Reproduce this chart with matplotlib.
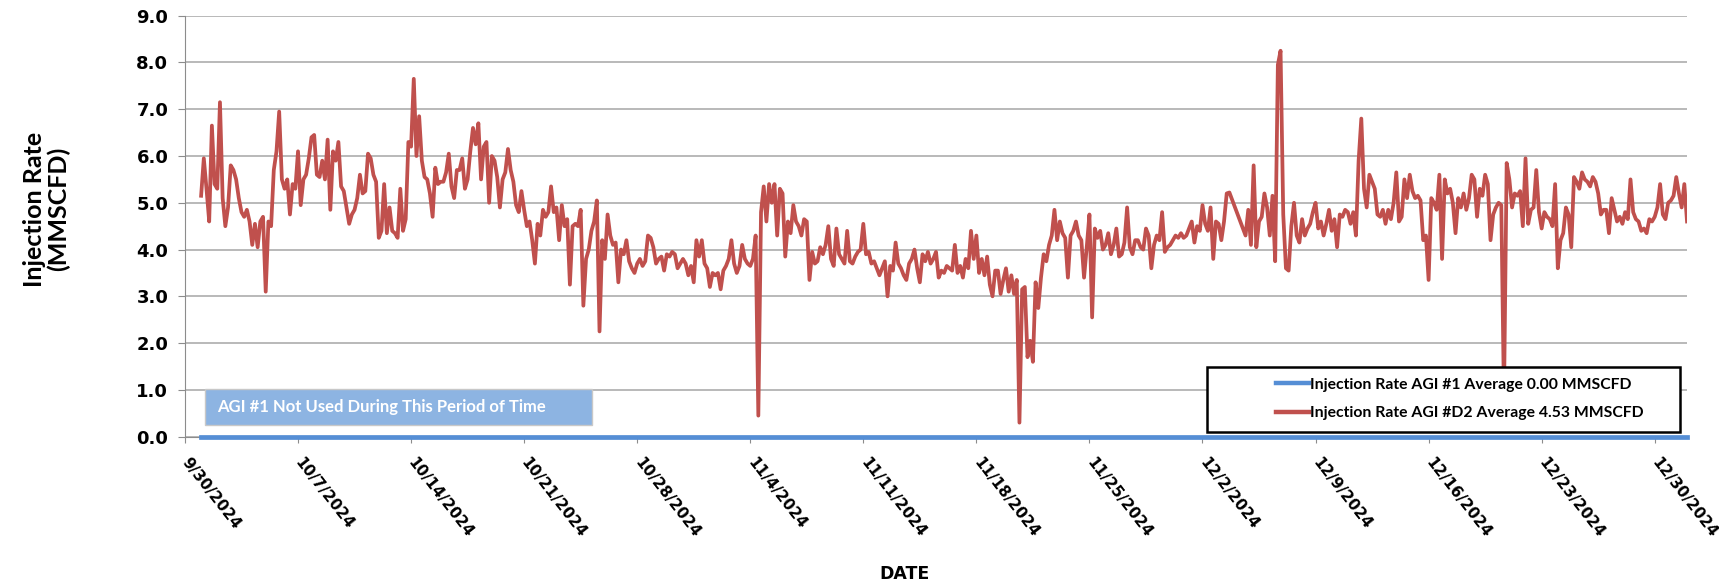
import numpy as np
import pandas as pd
import matplotlib
matplotlib.use('Agg')
import matplotlib.pyplot as plt
from matplotlib import font_manager
from matplotlib.patches import Rectangle
from matplotlib.lines import Line2D

names = {f.name for f in font_manager.fontManager.ttflist}
narrow = 'Liberation Sans Narrow' if 'Liberation Sans Narrow' in names else 'Lato'
plt.rcParams['font.family'] = ['DejaVu Sans']
plt.rcParams['font.weight'] = 'bold'

# AGI #D2 injection rate (MMSCFD), one value every 4 hours from 10/1/2024 00:00
# None = no reading (line is drawn straight across the gap)
start = '2024-10-01'
step = '4h'
agi_d2 = [
    5.15, 5.95, 5.3, 4.6, 6.65, 5.4,      # 10/1
    5.3, 7.15, 5.1, 4.5, 4.9, 5.8,
    5.7, 5.5, 5.1, 4.8, 4.7, 4.85,
    4.6, 4.1, 4.55, 4.05, 4.6, 4.7,
    3.1, 4.6, 4.5, 5.7, 6.1, 6.95,
    5.5, 5.3, 5.5, 4.75, 5.4, 5.3,
    6.1, 4.95, 5.5, 5.6, 5.95, 6.4,       # 10/7
    6.45, 5.6, 5.55, 5.9, 5.5, 6.35,
    4.85, 6.1, 5.9, 6.3, 5.35, 5.25,
    4.9, 4.55, 4.75, 4.85, 5.1, 5.6,
    5.2, 5.25, 6.05, 5.95, 5.6, 5.45,
    4.25, 4.4, 5.4, 4.35, 4.9, 4.4,
    4.35, 4.25, 5.3, 4.4, 4.65, 6.3,
    6.2, 7.65, 6.0, 6.85, 5.9, 5.55,      # 10/14
    5.5, 5.2, 4.7, 5.75, 5.4, 5.45,
    5.45, 5.65, 6.05, 5.35, 5.1, 5.7,
    5.7, 5.95, 5.3, 5.5, 6.1, 6.6,
    6.25, 6.7, 5.5, 6.2, 6.3, 5.0,
    6.0, 5.9, 5.55, 4.9, 5.5, 5.65,
    6.15, 5.7, 5.45, 4.95, 4.8, 5.25,
    4.85, 4.5, 4.6, 4.2, 3.7, 4.55,       # 10/21
    4.3, 4.85, 4.7, 4.8, 5.35, 4.8,
    4.9, 4.2, 4.95, 4.5, 4.65, 3.25,
    4.5, 4.55, 4.5, 4.85, 2.8, 3.8,
    4.0, 4.4, 4.6, 5.05, 2.25, 4.2,
    3.8, 4.75, 4.3, 4.1, 4.15, 3.3,
    4.0, 3.9, 4.2, 3.75, 3.6, 3.5,
    3.7, 3.8, 3.65, 3.75, 4.3, 4.25,      # 10/28
    4.05, 3.7, 3.8, 3.85, 3.55, 3.9,
    3.85, 3.95, 3.9, 3.6, 3.7, 3.8,
    3.7, 3.45, 3.65, 3.3, 4.2, 3.85,
    4.2, 3.7, 3.6, 3.2, 3.5, 3.45,
    3.5, 3.15, 3.55, 3.65, 3.8, 4.2,
    3.7, 3.5, 3.65, 4.1, 3.8, 3.7,
    3.65, 3.8, 4.3, 0.45, 4.8, 5.35,      # 11/4
    4.6, 5.4, 5.0, 5.4, 4.3, 5.3,
    5.2, 3.85, 4.6, 4.35, 4.95, 4.6,
    4.5, 4.3, 4.65, 4.6, 3.35, 3.95,
    3.7, 3.75, 4.05, 3.9, 4.1, 4.5,
    3.8, 3.65, 4.45, 3.9, 3.8, 3.7,
    4.4, 3.75, 3.7, 3.85, 3.95, 4.0,
    4.55, 3.9, 3.95, 3.7, 3.75, 3.6,      # 11/11
    3.45, 3.6, 3.75, 3.0, 3.65, 3.55,
    4.15, 3.7, 3.6, 3.45, 3.35, 3.7,
    3.8, 4.0, 3.6, 3.3, 3.9, 3.75,
    3.95, 3.7, 3.8, 3.95, 3.4, 3.55,
    3.5, 3.65, 3.6, 3.55, 4.1, 3.5,
    3.65, 3.4, 3.8, 3.6, 4.4, 3.8,
    4.3, 3.5, 3.8, 3.45, 3.85, 3.25,      # 11/18
    3.0, 3.55, 3.55, 3.05, 3.35, 3.6,
    3.1, 3.45, 3.05, 3.35, 0.3, 3.15,
    3.2, 1.7, 2.05, 1.6, 3.3, 2.75,
    3.4, 3.9, 3.75, 4.1, 4.3, 4.85,
    4.2, 4.6, 4.35, 4.25, 3.4, 4.3,
    4.4, 4.6, 4.3, 4.2, 3.4, 4.05,
    4.75, 2.55, 4.45, 4.25, 4.4, 4.0,     # 11/25
    4.1, 4.35, 3.9, 4.1, 4.45, 3.85,
    3.9, 4.15, 4.9, 4.05, 3.9, 4.2,
    4.2, 4.05, 4.0, 4.45, 4.3, 3.6,
    4.1, 4.3, 4.2, 4.8, 3.95, 4.05,
    4.1, 4.2, 4.3, 4.25, 4.35, 4.25,
    4.3, 4.45, 4.6, 4.15, 4.5, 4.4,
    4.95, 4.55, 4.4, 4.9, 3.8, 4.6,       # 12/2
    4.55, 4.2, 4.6, 5.2, 5.22, None,
    None, None, None, None, 4.3, 4.85,
    4.1, 5.8, 4.05, 4.6, 4.7, 5.2,
    4.9, 4.3, 5.15, 3.75, 7.95, 8.25,
    4.75, 3.6, 3.55, 4.5, 5.0, 4.3,
    4.15, 4.65, 4.3, 4.45, 4.55, 4.8,
    5.0, 4.45, 4.6, 4.3, 4.55, 4.85,      # 12/9
    4.4, 4.65, 4.05, 4.75, 4.7, 4.85,
    4.8, 4.55, 4.8, 4.3, 5.9, 6.8,
    5.3, 4.9, 5.6, 5.45, 5.3, 4.75,
    4.7, 4.85, 4.55, 4.85, 4.65, 5.0,
    5.65, 4.6, 4.7, 5.5, 5.1, 5.6,
    5.25, 5.1, 5.15, 5.05, 4.2, 4.3,
    3.35, 5.1, 5.0, 4.85, 5.6, 3.8,       # 12/16
    5.5, 5.2, 5.3, 5.0, 4.35, 5.1,
    4.9, 5.2, 4.85, 5.1, 5.6, 5.5,
    4.7, 5.3, 5.15, 5.6, 5.4, 4.2,
    4.75, 4.9, 5.0, 4.95, 0.8, 5.85,
    5.5, 4.9, 5.2, 5.15, 5.25, 4.5,
    5.95, 4.55, 4.85, 4.9, 5.7, 4.8,
    4.45, 4.8, 4.7, 4.65, 4.5, 5.4,       # 12/23
    3.6, 4.2, 4.35, 4.9, 4.75, 4.05,
    5.55, 5.45, 5.3, 5.65, 5.5, 5.45,
    5.35, 5.55, 5.45, 5.2, 4.75, 4.85,
    4.85, 4.35, 5.1, 4.85, 4.6, 4.7,
    4.55, 4.8, 4.65, 5.5, 4.8, 4.65,
    4.6, 4.4, 4.45, 4.35, 4.65, 4.6,
    4.7, 4.9, 5.4, 4.75, 4.65, 5.0,       # 12/30
    5.05, 5.15, 5.55, 5.2, 4.9, 5.4,
    4.6,
]

label_agi1 = 'Injection Rate AGI #1 Average 0.00 MMSCFD'
label_agi_d2 = 'Injection Rate AGI #D2 Average 4.53 MMSCFD'
note_text = 'AGI #1 Not Used During This Period of Time'

times = pd.date_range(start, periods=len(agi_d2), freq=step)
d2 = pd.Series(agi_d2, index=times, dtype=float).dropna()
agi1 = np.zeros(len(times))

tick_dates = pd.date_range('2024-09-30', '2024-12-30', freq='7D')
tick_labels = [f'{t.month}/{t.day}/{t.year}' for t in tick_dates]

blue = '#558ED5'
red = '#C0504D'
grid_c = '#A6A6A6'

fig = plt.figure(figsize=(17.19, 5.83), dpi=100)
ax = fig.add_axes([0.1076, 0.251, 0.8738, 0.7221])

ax.plot(d2.index, d2.values, color=red, lw=2.7, zorder=2)
ax.plot(times, agi1, color=blue, lw=3.4, zorder=3, clip_on=False)

ax.set_ylim(0, 9)
ax.set_yticks(np.arange(0, 9.5, 1.0))
ax.set_yticklabels([f'{v:.1f}' for v in np.arange(0, 9.5, 1.0)], fontsize=13)
ax.set_xlim(pd.Timestamp('2024-09-30'), pd.Timestamp('2025-01-01'))
ax.set_xticks(tick_dates)
ax.set_xticklabels(tick_labels, rotation=-52, ha='left', va='center',
                   rotation_mode='anchor', fontsize=11)

ax.yaxis.grid(True, color=grid_c, lw=1.1)
ax.set_axisbelow(True)
for side in ['top', 'right']:
    ax.spines[side].set_visible(False)
ax.spines['left'].set_color('#8C8C8C')
ax.spines['bottom'].set_color('#8C8C8C')
ax.tick_params(axis='y', length=5, color='#8C8C8C', pad=7)
ax.tick_params(axis='x', length=4.5, color='#8C8C8C', pad=12)

# note box
ax.add_patch(Rectangle((0.0133, 0.0278), 0.2577, 0.0855, transform=ax.transAxes,
                       facecolor='#8DB4E2', edgecolor='#C8C8C8', lw=1, zorder=4))
ax.text(0.0213, 0.0705, note_text, transform=ax.transAxes, color='white',
        fontsize=12, family=narrow, va='center', ha='left', zorder=5)

# legend box
ax.add_patch(Rectangle((0.6804, 0.011), 0.3149, 0.1546, transform=ax.transAxes,
                       facecolor='white', edgecolor='black', lw=1.8, zorder=4))
handles = [Line2D([], [], color=blue, lw=3.2), Line2D([], [], color=red, lw=3.2)]
leg = ax.legend(handles, [label_agi1, label_agi_d2], loc='center left',
                bbox_to_anchor=(0.721, 0.0895), frameon=False, borderpad=0,
                handlelength=2.1, handletextpad=0.05, labelspacing=0.95,
                prop={'family': narrow, 'weight': 'bold', 'size': 11.3})
leg.set_zorder(6)

fig.text(0.027, 0.641, 'Injection Rate\n(MMSCFD)', rotation=90, ha='center',
         va='center', multialignment='center', fontsize=18, family=narrow,
         linespacing=1.05)
fig.text(0.526, 0.0154, 'DATE', ha='center', va='center', fontsize=12.5)

fig.savefig('out.png', dpi=100)
